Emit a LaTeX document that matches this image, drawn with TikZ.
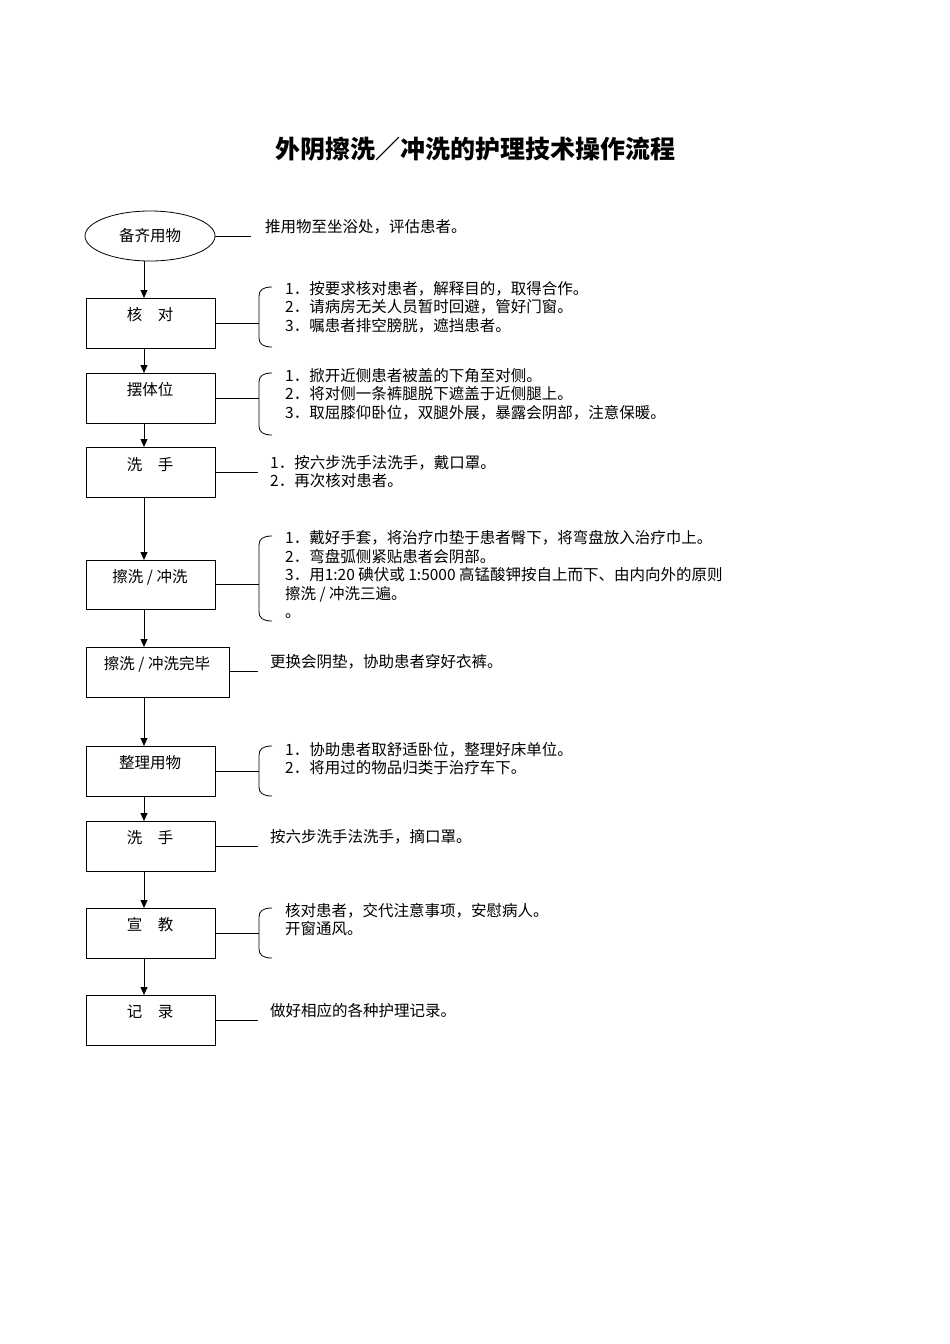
\documentclass[tikz,border=0pt]{standalone}
\usepackage{fontspec}
\setmainfont{Liberation Serif}
\newfontfamily\cjk{Noto Sans CJK SC}
\usetikzlibrary{shapes.geometric,arrows.meta}
\begin{document}
\begin{tikzpicture}[x=1pt,y=-1pt,
  box/.style={draw,line width=0.8pt,anchor=north west,inner sep=0pt},
  lbl/.style={font=\cjk\fontsize{15.5}{15.5}\selectfont,inner sep=0pt},
  txt/.style={font=\cjk\fontsize{15.5}{18.6}\selectfont,anchor=north west,inner sep=0pt,align=left},
  arr/.style={-{Triangle[length=8pt,width=7pt]},line width=0.8pt},
  ln/.style={line width=0.8pt}]
\useasboundingbox (0,0) rectangle (950,1344);
\node[font=\cjk\bfseries\fontsize{25}{25}\selectfont] (title) at (475,149) {外阴擦洗／冲洗的护理技术操作流程};
\node[draw,ellipse,line width=0.8pt,minimum width=130pt,minimum height=50pt,lbl] (e) at (150,236) {备齐用物};
\node[box,minimum width=129pt,minimum height=50pt] (b1) at (86,298) {};
\node[lbl] at (150,315) {核\quad 对};
\node[box,minimum width=129pt,minimum height=50pt] (b2) at (86,373) {};
\node[lbl] at (150,390) {摆体位};
\node[box,minimum width=129pt,minimum height=50pt] (b3) at (86,447) {};
\node[lbl] at (150,465) {洗\quad 手};
\node[box,minimum width=129pt,minimum height=49pt] (b4) at (86,560) {};
\node[lbl] at (150,577) {擦洗 / 冲洗};
\node[box,minimum width=143pt,minimum height=50pt] (b5) at (86,647) {};
\node[lbl] at (157,664) {擦洗 / 冲洗完毕};
\node[box,minimum width=129pt,minimum height=50pt] (b6) at (86,746) {};
\node[lbl] at (150,763) {整理用物};
\node[box,minimum width=129pt,minimum height=50pt] (b7) at (86,821) {};
\node[lbl] at (150,838) {洗\quad 手};
\node[box,minimum width=129pt,minimum height=50pt] (b8) at (86,908) {};
\node[lbl] at (150,925) {宣\quad 教};
\node[box,minimum width=129pt,minimum height=50pt] (b9) at (86,995) {};
\node[lbl] at (150,1012) {记\quad 录};
\draw[arr] (144,261) -- (b1.north -| 144,0);
\foreach \a/\b in {b1/b2,b2/b3,b3/b4,b4/b5,b5/b6,b6/b7,b7/b8,b8/b9}
  \draw[arr] (\a.south -| 144,0) -- (\b.north -| 144,0);
\coordinate (c0) at (251,236);
\draw[ln] (e.east) -- (c0);
\newcommand\brc[4]{\draw[ln] (272,#1) .. controls (263,#1) and (259,#1+3) .. (259,#1+9) -- (259,#2-9) .. controls (259,#2-3) and (263,#2) .. (272,#2);
  \coordinate (#4) at (259,#3);}
\brc{287}{347}{323}{k1}\draw[ln] (215,323) -- (k1);
\brc{373}{435}{398}{k2}\draw[ln] (215,398) -- (k2);
\coordinate (k3) at (258,472);\draw[ln] (215,472) -- (k3);
\brc{536}{621}{584}{k4}\draw[ln] (215,584) -- (k4);
\coordinate (k5) at (258,671);\draw[ln] (229,671) -- (k5);
\brc{746}{796}{771}{k6}\draw[ln] (215,771) -- (k6);
\coordinate (k7) at (258,846);\draw[ln] (215,846) -- (k7);
\brc{908}{958}{933}{k8}\draw[ln] (215,933) -- (k8);
\coordinate (k9) at (258,1020);\draw[ln] (215,1020) -- (k9);
\node[txt] (t0) at (265,219) {推用物至坐浴处，评估患者。};
\node[txt] (t1) at (285,281) {1．按要求核对患者，解释目的，取得合作。\\2．请病房无关人员暂时回避，管好门窗。\\3．嘱患者排空膀胱，遮挡患者。};
\node[txt] (t2) at (285,368) {1．掀开近侧患者被盖的下角至对侧。\\2．将对侧一条裤腿脱下遮盖于近侧腿上。\\3．取屈膝仰卧位，双腿外展，暴露会阴部，注意保暖。};
\node[txt] (t3) at (270,455) {1．按六步洗手法洗手，戴口罩。\\2．再次核对患者。};
\node[txt] (t4) at (285,530) {1．戴好手套，将治疗巾垫于患者臀下，将弯盘放入治疗巾上。\\2．弯盘弧侧紧贴患者会阴部。\\3．用1:20 碘伏或 1:5000 高锰酸钾按自上而下、由内向外的原则\\擦洗 / 冲洗三遍。\\。};
\node[txt] (t5) at (270,654) {更换会阴垫，协助患者穿好衣裤。};
\node[txt] (t6) at (285,742) {1．协助患者取舒适卧位，整理好床单位。\\2．将用过的物品归类于治疗车下。};
\node[txt] (t7) at (270,829) {按六步洗手法洗手，摘口罩。};
\node[txt] (t8) at (285,903) {核对患者，交代注意事项，安慰病人。\\开窗通风。};
\node[txt] (t9) at (270,1003) {做好相应的各种护理记录。};
\end{tikzpicture}
\end{document}
